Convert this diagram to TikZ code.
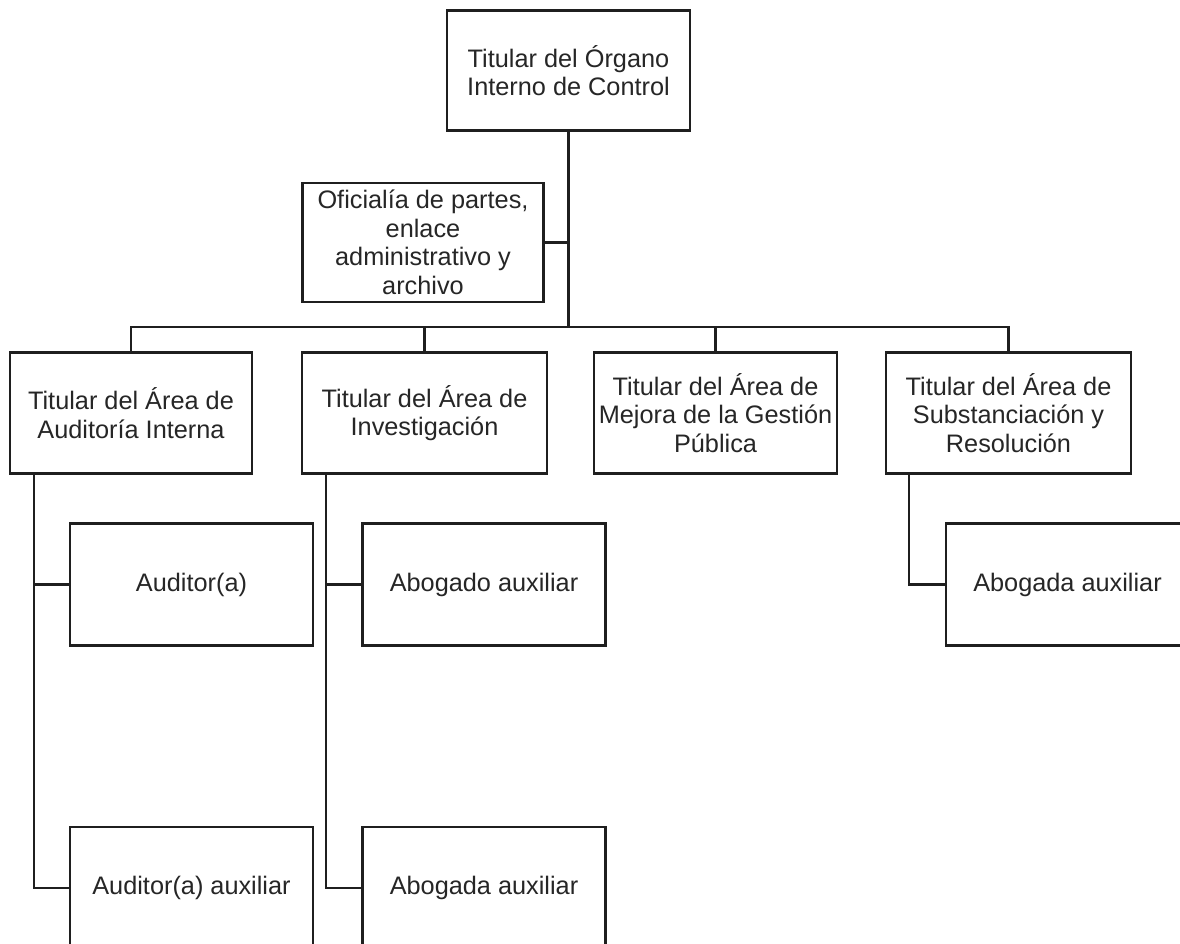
\documentclass[tikz,border=0pt]{standalone}
\usepackage{fontspec}
\setmainfont{Liberation Sans}
\definecolor{linec}{HTML}{1F1F1F}
\definecolor{textc}{HTML}{262626}
\begin{document}
\begin{tikzpicture}[x=1pt,y=-1pt,
  box/.style={draw=linec, line width=2.3pt, align=center, inner sep=0pt, text=textc,
    font=\fontsize{25.3}{28.5}\selectfont, fill=white},
  headbox/.style={box, minimum width=243pt, minimum height=121pt},
  subbox/.style={box, minimum width=243pt, minimum height=122pt},
  conn/.style={draw=linec, line width=2.7pt, line join=miter}]
\fill[white] (0,0) rectangle (1180,943);
\clip (0,0) rectangle (1180,943);
% nodes
\node[box, minimum width=243pt, minimum height=120pt] (top) at (568.5,70.5) {Titular del Órgano\\Interno de Control};
\node[box, minimum width=241pt, minimum height=119pt] (ofi) at (423,242.5) {Oficialía de partes,\\enlace\\administrativo y\\archivo};
\node[headbox, minimum width=242pt] (b1) at (131,413) {Titular del Área de\\Auditoría Interna};
\node[headbox, minimum width=245pt] (b2) at (424.5,413) {Titular del Área de\\Investigación};
\node[headbox] (b3) at (715.5,413) {Titular del Área de\\Mejora de la Gestión\\Pública};
\node[headbox, minimum width=245pt] (b4) at (1008.5,413) {Titular del Área de\\Substanciación y\\Resolución};
\node[subbox] (aud) at (191.5,584.5) {Auditor(a)};
\node[subbox] (aud2) at (191.5,888) {Auditor(a) auxiliar};
\node[subbox] (abo) at (484,584.5) {Abogado auxiliar};
\node[subbox] (aba) at (484,888) {Abogada auxiliar};
\node[subbox] (aba2) at (1067.5,584.5) {Abogada auxiliar};
% connectors
\coordinate (busM) at (568.5,327);
\draw[conn] (top.south) -- (busM);
\draw[conn] (ofi.east) -- (ofi.east -| top.south);
\draw[conn] (b1.north) |- (busM) -| (b4.north);
\draw[conn] (b2.north) -- (b2.north |- busM);
\draw[conn] (b3.north) -- (b3.north |- busM);
\draw[conn] ([xshift=25pt]b1.south west) |- (aud.west);
\draw[conn] ([xshift=25pt]b1.south west) |- (aud2.west);
\draw[conn] ([xshift=25pt]b2.south west) |- (abo.west);
\draw[conn] ([xshift=25pt]b2.south west) |- (aba.west);
\draw[conn] ([xshift=24pt]b4.south west) |- (aba2.west);
\end{tikzpicture}
\end{document}
